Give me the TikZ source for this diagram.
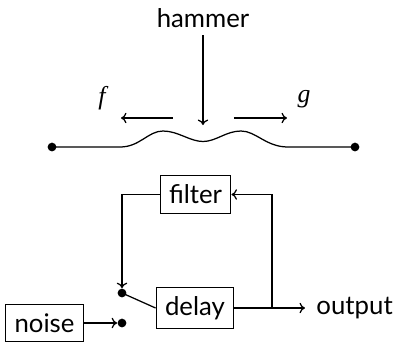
\documentclass[tikz,border=0pt]{standalone}
\usepackage{fontspec}
\usetikzlibrary{arrows.meta}
\setmainfont{Lato}
\newfontfamily\myserif{Liberation Serif}
\begin{document}
\begin{tikzpicture}[x=0.4pt,y=-0.4pt,
  every node/.style={font=\fontsize{10.3}{12.5}\selectfont},
  blk/.style={draw, inner sep=3.6pt},
  dotnode/.style={circle, fill, inner sep=0pt, minimum size=3.5pt},
  arr/.style={-{To[length=2.2pt,width=4.2pt]}},
  ln/.style={line width=0.5pt}]
\useasboundingbox (0,0) rectangle (395,342);
% top part
\node (hammer) at (203,18) {hammer};
\coordinate (htop) at (203,35);
\coordinate (hit) at (203,125);
\draw[arr,ln] (htop) -- (hit);
\node (f) at (102,98) {\myserif\itshape f};
\node (g) at (304,99) {\myserif\itshape g};
\coordinate (la) at (173,118); \coordinate (lb) at (121,118);
\coordinate (ra) at (234,118); \coordinate (rb) at (287,118);
\draw[arr,ln] (la) -- (lb);
\draw[arr,ln] (ra) -- (rb);
\node[dotnode] (s1) at (52,147) {};
\node[dotnode] (s2) at (355,147) {};
\draw[ln] (s1.center) -- (120,147)
  .. controls (140,147) and (148,131) .. (163,131)
  .. controls (178,131) and (190,141.5) .. (203,141.5)
  .. controls (216,141.5) and (226,131) .. (241,131)
  .. controls (256,131) and (266,147) .. (288,147) -- (s2.center);
% bottom part
\node[blk] (filter) at (195.5,194.5) {filter};
\node[blk] (delay) at (195,308) {delay};
\node[blk] (noise) at (44.5,323) {noise};
\node[dotnode] (d1) at (122,293) {};
\node[dotnode] (d2) at (122,323) {};
\node[anchor=west, inner sep=2pt] (output) at (311,308) {output};
\coordinate (outend) at (305,308);
\coordinate (br) at (272,308);
\draw[arr,ln] (delay.east) -- (outend);
\draw[arr,ln] (br) |- (filter.east);
\draw[arr,ln] (filter.west) -| (d1);
\draw[ln] (d1.center) -- (delay.west);
\draw[arr,ln] (noise.east) -- (d2);
\end{tikzpicture}
\end{document}
